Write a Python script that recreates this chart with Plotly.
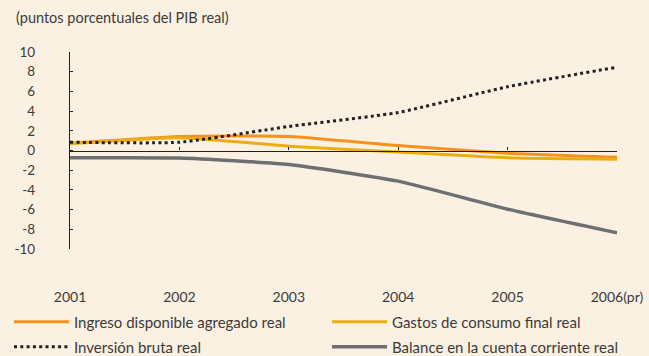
import plotly.graph_objects as go

# Years and axis labels
years = [2001, 2002, 2003, 2004, 2005, 2006]
year_labels = ["2001", "2002", "2003", "2004", "2005", "2006(pr)"]
y_ticks = [-10, -8, -6, -4, -2, 0, 2, 4, 6, 8, 10]
y_tick_labels = ["-10", "-8", "-6", "-4", "-2", "0", "2", "4", "6", "8", "10"]

# Contributions (percentage points of real GDP)
ingreso = [0.74, 1.42, 1.42, 0.50, -0.27, -0.68]
gastos = [0.68, 1.30, 0.44, -0.15, -0.74, -0.88]
inversion = [0.84, 0.84, 2.44, 3.86, 6.47, 8.46]
balance = [-0.74, -0.76, -1.42, -3.11, -5.96, -8.36]

BG = "#FAF1E2"
INK = "#231F20"
TXT = "#3C3A3A"
FONT = "Lato"
W, H = 649, 356

fig = go.Figure()

fig.add_trace(go.Scatter(
    x=years, y=ingreso, name="Ingreso disponible agregado real",
    mode="lines", line=dict(color="#F7901E", width=3, shape="spline", smoothing=0.5),
    legend="legend",
))
fig.add_trace(go.Scatter(
    x=years, y=gastos, name="Gastos de consumo final real",
    mode="lines", line=dict(color="#EAAE12", width=3, shape="spline", smoothing=0.5),
    legend="legend2",
))
# the current-account series rides on the zero-level axis so that axis is drawn
fig.add_trace(go.Scatter(
    x=years, y=balance, name="Balance en la cuenta corriente real",
    mode="lines", line=dict(color="#6E6F72", width=3.5, shape="spline", smoothing=0.5),
    xaxis="x2", legend="legend4",
))
fig.add_trace(go.Scatter(
    x=years, y=inversion, name="Inversión bruta real",
    mode="lines", line=dict(color=INK, width=3, dash="3px,3.3px", shape="spline", smoothing=0.5),
    legend="legend3",
))


def legend_box(x_px, y_px):
    return dict(
        orientation="h", xref="container", yref="container",
        x=x_px / W, y=1 - y_px / H, xanchor="left", yanchor="middle",
        font=dict(size=15, color=TXT), bgcolor="rgba(0,0,0,0)",
        itemwidth=55,
    )


fig.update_layout(
    width=W, height=H, autosize=False,
    margin=dict(l=70, r=32, t=52, b=107, autoexpand=False),
    paper_bgcolor=BG, plot_bgcolor=BG,
    font=dict(family=FONT, size=13, color=TXT),
    showlegend=True,
    xaxis=dict(
        range=[2001, 2006], tickvals=years, ticktext=year_labels,
        showline=False, ticks="", showgrid=False, zeroline=False,
        tickfont=dict(size=14, color=TXT), ticklabelstandoff=38, automargin=False,
    ),
    # zero-level axis carrying the year tick marks
    xaxis2=dict(
        overlaying="x", anchor="free", position=0.5, side="bottom",
        range=[2001, 2006], tickvals=years, showticklabels=False,
        showline=True, linecolor=INK, linewidth=1.2,
        ticks="inside", ticklen=3, tickcolor=INK, tickwidth=1.2,
        showgrid=False, zeroline=False, automargin=False,
    ),
    yaxis=dict(
        range=[-10, 10], tickvals=y_ticks, ticktext=y_tick_labels,
        showgrid=False, zeroline=False,
        showline=True, linecolor=INK, linewidth=1.2,
        ticks="inside", ticklen=3, tickcolor=INK, tickwidth=1.2,
        tickfont=dict(size=13.5, color=TXT), ticklabelstandoff=31, automargin=False,
    ),
    legend=legend_box(9, 322),
    legend2=legend_box(327, 322),
    legend3=legend_box(9, 347),
    legend4=legend_box(327, 347),
    annotations=[dict(
        text="(puntos porcentuales del PIB real)", xref="paper", yref="paper",
        x=(14 - 70) / 547, y=1.0, xanchor="left", yanchor="middle", yshift=35,
        showarrow=False, font=dict(size=14.5, color=TXT),
    )],
)

fig.write_html("out.html")
